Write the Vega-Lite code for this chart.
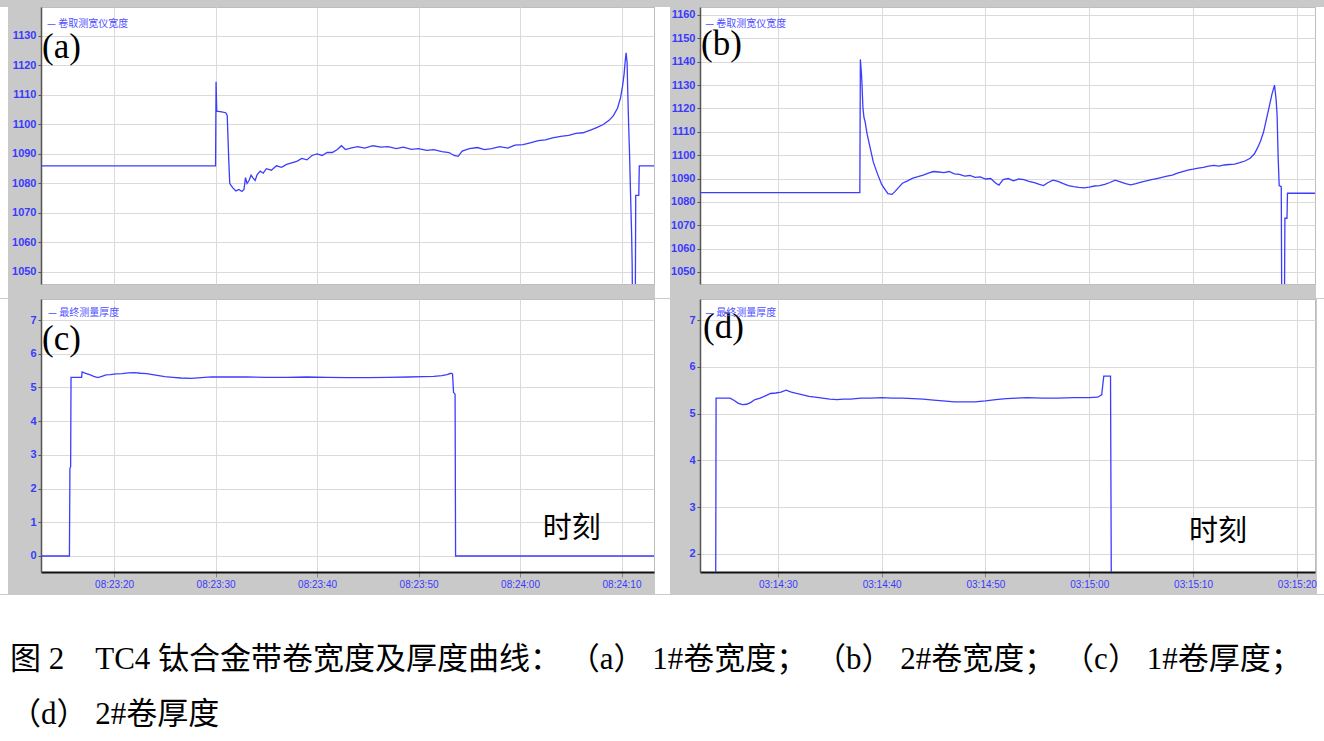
{
  "$schema": "https://vega.github.io/schema/vega-lite/v6.json",
  "background": "#c9c9c9",
  "padding": {"top": 6, "left": 0, "right": 0, "bottom": 0},
  "config": {
    "axis": {"labelColor": "#3a3aff", "labelFont": "Liberation Sans", "gridColor": "#dadada", "gridWidth": 1, "tickColor": "#555555", "domainColor": "#555555", "labelOverlap": false, "tickCount": 20},
    "axisY": {"labelFontSize": 11, "labelFontWeight": "bold", "tickSize": 3, "labelPadding": 2, "domainWidth": 1.5},
    "axisX": {"labelFontSize": 10, "tickSize": 5, "labelPadding": 2, "domainColor": "#111111", "domainWidth": 2, "tickColor": "#888888"}
  },
  "spacing": 0,
  "vconcat": [
    {
      "spacing": 0,
      "hconcat": [
        {"width": 8, "height": 291, "view": {"fill": "white", "stroke": null}, "data": {"values": [{}]}, "mark": {"type": "text"}, "encoding": {"text": {"value": ""}}},
        {
          "width": 613, "height": 277,
          "view": {"fill": "white", "stroke": "#bdbdbd"},
          "data": {"values": [
            {"t": "08:23:12.800", "v": 1086}, {"t": "08:23:30.000", "v": 1086}, {"t": "08:23:30.050", "v": 1114.5}, {"t": "08:23:30.120", "v": 1104.5},
            {"t": "08:23:30.600", "v": 1104.3}, {"t": "08:23:31.000", "v": 1104}, {"t": "08:23:31.150", "v": 1103}, {"t": "08:23:31.300", "v": 1088},
            {"t": "08:23:31.400", "v": 1080}, {"t": "08:23:31.700", "v": 1078.5}, {"t": "08:23:32.000", "v": 1077.5}, {"t": "08:23:32.300", "v": 1078},
            {"t": "08:23:32.600", "v": 1077.3}, {"t": "08:23:32.800", "v": 1078}, {"t": "08:23:32.950", "v": 1082}, {"t": "08:23:33.100", "v": 1080},
            {"t": "08:23:33.300", "v": 1081}, {"t": "08:23:33.500", "v": 1082.8}, {"t": "08:23:33.700", "v": 1081.8}, {"t": "08:23:33.900", "v": 1081},
            {"t": "08:23:34.100", "v": 1083}, {"t": "08:23:34.400", "v": 1084.2}, {"t": "08:23:34.700", "v": 1083.5}, {"t": "08:23:35.000", "v": 1085},
            {"t": "08:23:35.500", "v": 1084.5}, {"t": "08:23:36.000", "v": 1086}, {"t": "08:23:36.500", "v": 1085.5}, {"t": "08:23:37.000", "v": 1086.5},
            {"t": "08:23:37.500", "v": 1087}, {"t": "08:23:38.000", "v": 1087.5}, {"t": "08:23:38.500", "v": 1088.5}, {"t": "08:23:39.000", "v": 1088},
            {"t": "08:23:39.500", "v": 1089.5}, {"t": "08:23:40.000", "v": 1090}, {"t": "08:23:40.500", "v": 1089.5}, {"t": "08:23:41.000", "v": 1090.5},
            {"t": "08:23:41.500", "v": 1090.5}, {"t": "08:23:42.000", "v": 1091.5}, {"t": "08:23:42.400", "v": 1092.8}, {"t": "08:23:42.800", "v": 1091.5},
            {"t": "08:23:43.300", "v": 1092}, {"t": "08:23:44.000", "v": 1092.5}, {"t": "08:23:44.700", "v": 1092}, {"t": "08:23:45.500", "v": 1092.8},
            {"t": "08:23:46.300", "v": 1092.3}, {"t": "08:23:47.000", "v": 1092.5}, {"t": "08:23:47.800", "v": 1091.8}, {"t": "08:23:48.500", "v": 1092.3},
            {"t": "08:23:49.300", "v": 1091.6}, {"t": "08:23:50.000", "v": 1091.8}, {"t": "08:23:50.800", "v": 1091.2}, {"t": "08:23:51.500", "v": 1091.5},
            {"t": "08:23:52.300", "v": 1090.8}, {"t": "08:23:53.000", "v": 1090.5}, {"t": "08:23:53.500", "v": 1089.5}, {"t": "08:23:53.900", "v": 1089.2},
            {"t": "08:23:54.300", "v": 1091}, {"t": "08:23:55.000", "v": 1091.8}, {"t": "08:23:55.800", "v": 1092.2}, {"t": "08:23:56.500", "v": 1091.5},
            {"t": "08:23:57.200", "v": 1091.8}, {"t": "08:23:58.000", "v": 1092.5}, {"t": "08:23:58.800", "v": 1092}, {"t": "08:23:59.500", "v": 1093},
            {"t": "08:24:00.300", "v": 1093.2}, {"t": "08:24:01.000", "v": 1093.8}, {"t": "08:24:01.800", "v": 1094.5}, {"t": "08:24:02.500", "v": 1094.8},
            {"t": "08:24:03.200", "v": 1095.5}, {"t": "08:24:04.000", "v": 1096}, {"t": "08:24:04.800", "v": 1096.3}, {"t": "08:24:05.500", "v": 1097},
            {"t": "08:24:06.200", "v": 1097.2}, {"t": "08:24:07.000", "v": 1098.2}, {"t": "08:24:07.600", "v": 1099}, {"t": "08:24:08.200", "v": 1100},
            {"t": "08:24:08.800", "v": 1101.5}, {"t": "08:24:09.200", "v": 1103}, {"t": "08:24:09.600", "v": 1105.5}, {"t": "08:24:09.900", "v": 1109},
            {"t": "08:24:10.100", "v": 1113}, {"t": "08:24:10.250", "v": 1117}, {"t": "08:24:10.350", "v": 1121}, {"t": "08:24:10.450", "v": 1124.3},
            {"t": "08:24:10.550", "v": 1121}, {"t": "08:24:10.600", "v": 1113}, {"t": "08:24:10.700", "v": 1100}, {"t": "08:24:10.800", "v": 1089},
            {"t": "08:24:10.900", "v": 1075}, {"t": "08:24:11.000", "v": 1062}, {"t": "08:24:11.050", "v": 1052}, {"t": "08:24:11.100", "v": 1030},
            {"t": "08:24:11.350", "v": 1030}, {"t": "08:24:11.400", "v": 1076}, {"t": "08:24:11.700", "v": 1076}, {"t": "08:24:11.750", "v": 1086},
            {"t": "08:24:13.200", "v": 1086}
          ], "format": {"parse": {"t": "date:'%H:%M:%S.%L'"}}},
          "layer": [
            {
              "mark": {"type": "line", "color": "#3c3cff", "strokeWidth": 1.3, "clip": true},
              "encoding": {
                "x": {"field": "t", "type": "temporal",
                  "scale": {"domain": [{"year": 1900, "month": 1, "date": 1, "hours": 8, "minutes": 23, "seconds": 12, "milliseconds": 800}, {"year": 1900, "month": 1, "date": 1, "hours": 8, "minutes": 24, "seconds": 13, "milliseconds": 200}]},
                  "axis": {"title": null, "labels": false, "ticks": false, "domain": false, "grid": true,
                    "values": [{"year": 1900, "month": 1, "date": 1, "hours": 8, "minutes": 23, "seconds": 20}, {"year": 1900, "month": 1, "date": 1, "hours": 8, "minutes": 23, "seconds": 30}, {"year": 1900, "month": 1, "date": 1, "hours": 8, "minutes": 23, "seconds": 40}, {"year": 1900, "month": 1, "date": 1, "hours": 8, "minutes": 23, "seconds": 50}, {"year": 1900, "month": 1, "date": 1, "hours": 8, "minutes": 24, "seconds": 0}, {"year": 1900, "month": 1, "date": 1, "hours": 8, "minutes": 24, "seconds": 10}]}},
                "y": {"field": "v", "type": "quantitative",
                  "scale": {"domain": [1045.93, 1139.83], "nice": false, "zero": false},
                  "axis": {"title": null, "format": "d", "values": [1050, 1060, 1070, 1080, 1090, 1100, 1110, 1120, 1130], "minExtent": 32, "maxExtent": 32, "grid": true}}
              }
            },
            {
              "data": {"values": [{}]},
              "mark": {"type": "text", "font": "Liberation Serif", "fontSize": 35, "align": "left", "baseline": "middle", "color": "black"},
              "encoding": {
                "x": {"datum": {"year": 1900, "month": 1, "date": 1, "hours": 8, "minutes": 23, "seconds": 12, "milliseconds": 900}, "type": "temporal"},
                "y": {"datum": 1126.2, "type": "quantitative"},
                "text": {"value": "(a)"}
              }
            },
            {
              "data": {"values": [{}]},
              "mark": {"type": "text", "font": "Noto Sans CJK SC", "fontSize": 10, "align": "left", "baseline": "middle", "color": "#5050ff"},
              "encoding": {
                "x": {"datum": {"year": 1900, "month": 1, "date": 1, "hours": 8, "minutes": 23, "seconds": 13, "milliseconds": 400}, "type": "temporal"},
                "y": {"datum": 1134, "type": "quantitative"},
                "text": {"value": "— 卷取测宽仪宽度"}
              }
            }
          ]
        },
        {"width": 15, "height": 291, "view": {"fill": "white", "stroke": null}, "data": {"values": [{}]}, "mark": {"type": "text"}, "encoding": {"text": {"value": ""}}},
        {
          "width": 615, "height": 277,
          "view": {"fill": "white", "stroke": "#bdbdbd"},
          "data": {"values": [
            {"t": "03:14:22.500", "v": 1084}, {"t": "03:14:37.900", "v": 1084}, {"t": "03:14:37.950", "v": 1141}, {"t": "03:14:38.050", "v": 1135},
            {"t": "03:14:38.100", "v": 1131}, {"t": "03:14:38.200", "v": 1120}, {"t": "03:14:38.300", "v": 1116}, {"t": "03:14:38.400", "v": 1114.5},
            {"t": "03:14:38.600", "v": 1109}, {"t": "03:14:38.900", "v": 1103}, {"t": "03:14:39.200", "v": 1097}, {"t": "03:14:39.600", "v": 1092},
            {"t": "03:14:40.000", "v": 1087.5}, {"t": "03:14:40.300", "v": 1085.5}, {"t": "03:14:40.600", "v": 1083.5}, {"t": "03:14:41.000", "v": 1083.2},
            {"t": "03:14:41.300", "v": 1084.5}, {"t": "03:14:41.600", "v": 1086}, {"t": "03:14:42.000", "v": 1088}, {"t": "03:14:42.500", "v": 1089},
            {"t": "03:14:43.000", "v": 1090.2}, {"t": "03:14:43.500", "v": 1090.8}, {"t": "03:14:44.000", "v": 1091.5}, {"t": "03:14:44.500", "v": 1092.3},
            {"t": "03:14:45.000", "v": 1093}, {"t": "03:14:45.500", "v": 1092.8}, {"t": "03:14:46.000", "v": 1092.5}, {"t": "03:14:46.500", "v": 1093},
            {"t": "03:14:47.000", "v": 1092}, {"t": "03:14:47.500", "v": 1091.8}, {"t": "03:14:48.000", "v": 1091}, {"t": "03:14:48.500", "v": 1091.3},
            {"t": "03:14:49.000", "v": 1090.5}, {"t": "03:14:49.500", "v": 1090.7}, {"t": "03:14:50.000", "v": 1089.8}, {"t": "03:14:50.500", "v": 1090},
            {"t": "03:14:51.000", "v": 1088}, {"t": "03:14:51.300", "v": 1087.2}, {"t": "03:14:51.700", "v": 1089.5}, {"t": "03:14:52.200", "v": 1090},
            {"t": "03:14:52.700", "v": 1089}, {"t": "03:14:53.200", "v": 1089.8}, {"t": "03:14:53.700", "v": 1089.5}, {"t": "03:14:54.200", "v": 1088.8},
            {"t": "03:14:54.700", "v": 1088.2}, {"t": "03:14:55.200", "v": 1087.5}, {"t": "03:14:55.600", "v": 1087}, {"t": "03:14:56.000", "v": 1088.2},
            {"t": "03:14:56.500", "v": 1089.3}, {"t": "03:14:57.000", "v": 1088.8}, {"t": "03:14:57.500", "v": 1087.8}, {"t": "03:14:58.000", "v": 1087},
            {"t": "03:14:58.500", "v": 1086.5}, {"t": "03:14:59.000", "v": 1086.2}, {"t": "03:14:59.500", "v": 1086}, {"t": "03:15:00.000", "v": 1086.3},
            {"t": "03:15:00.500", "v": 1086.8}, {"t": "03:15:01.000", "v": 1087}, {"t": "03:15:01.500", "v": 1087.5}, {"t": "03:15:02.000", "v": 1088.3},
            {"t": "03:15:02.500", "v": 1089.3}, {"t": "03:15:03.000", "v": 1088.6}, {"t": "03:15:03.500", "v": 1087.8}, {"t": "03:15:04.000", "v": 1087.3},
            {"t": "03:15:04.500", "v": 1087.8}, {"t": "03:15:05.000", "v": 1088.5}, {"t": "03:15:05.500", "v": 1089}, {"t": "03:15:06.000", "v": 1089.5},
            {"t": "03:15:06.500", "v": 1090}, {"t": "03:15:07.000", "v": 1090.5}, {"t": "03:15:07.500", "v": 1091}, {"t": "03:15:08.000", "v": 1091.5},
            {"t": "03:15:08.500", "v": 1092.3}, {"t": "03:15:09.000", "v": 1093}, {"t": "03:15:09.500", "v": 1093.6}, {"t": "03:15:10.000", "v": 1094},
            {"t": "03:15:10.500", "v": 1094.5}, {"t": "03:15:11.000", "v": 1094.8}, {"t": "03:15:11.500", "v": 1095.3}, {"t": "03:15:12.000", "v": 1095.6},
            {"t": "03:15:12.500", "v": 1095.3}, {"t": "03:15:13.000", "v": 1095.8}, {"t": "03:15:13.500", "v": 1096}, {"t": "03:15:14.000", "v": 1096.2},
            {"t": "03:15:14.500", "v": 1096.8}, {"t": "03:15:15.000", "v": 1097.5}, {"t": "03:15:15.500", "v": 1098.7}, {"t": "03:15:15.900", "v": 1100.5},
            {"t": "03:15:16.200", "v": 1103}, {"t": "03:15:16.500", "v": 1106}, {"t": "03:15:16.800", "v": 1110}, {"t": "03:15:17.000", "v": 1114},
            {"t": "03:15:17.200", "v": 1118}, {"t": "03:15:17.400", "v": 1122}, {"t": "03:15:17.600", "v": 1126}, {"t": "03:15:17.850", "v": 1130},
            {"t": "03:15:18.000", "v": 1124}, {"t": "03:15:18.100", "v": 1117}, {"t": "03:15:18.200", "v": 1099}, {"t": "03:15:18.300", "v": 1087},
            {"t": "03:15:18.500", "v": 1086.5}, {"t": "03:15:18.550", "v": 1030}, {"t": "03:15:18.800", "v": 1030}, {"t": "03:15:18.850", "v": 1073},
            {"t": "03:15:19.050", "v": 1073}, {"t": "03:15:19.100", "v": 1083.7}, {"t": "03:15:21.750", "v": 1083.7}
          ], "format": {"parse": {"t": "date:'%H:%M:%S.%L'"}}},
          "layer": [
            {
              "mark": {"type": "line", "color": "#3c3cff", "strokeWidth": 1.3, "clip": true},
              "encoding": {
                "x": {"field": "t", "type": "temporal",
                  "scale": {"domain": [{"year": 1900, "month": 1, "date": 1, "hours": 3, "minutes": 14, "seconds": 22, "milliseconds": 500}, {"year": 1900, "month": 1, "date": 1, "hours": 3, "minutes": 15, "seconds": 21, "milliseconds": 750}]},
                  "axis": {"title": null, "labels": false, "ticks": false, "domain": false, "grid": true,
                    "values": [{"year": 1900, "month": 1, "date": 1, "hours": 3, "minutes": 14, "seconds": 30}, {"year": 1900, "month": 1, "date": 1, "hours": 3, "minutes": 14, "seconds": 40}, {"year": 1900, "month": 1, "date": 1, "hours": 3, "minutes": 14, "seconds": 50}, {"year": 1900, "month": 1, "date": 1, "hours": 3, "minutes": 15, "seconds": 0}, {"year": 1900, "month": 1, "date": 1, "hours": 3, "minutes": 15, "seconds": 10}, {"year": 1900, "month": 1, "date": 1, "hours": 3, "minutes": 15, "seconds": 20}]}},
                "y": {"field": "v", "type": "quantitative",
                  "scale": {"domain": [1044.86, 1163.42], "nice": false, "zero": false},
                  "axis": {"title": null, "format": "d", "values": [1050, 1060, 1070, 1080, 1090, 1100, 1110, 1120, 1130, 1140, 1150, 1160], "minExtent": 29, "maxExtent": 29, "grid": true}}
              }
            },
            {
              "data": {"values": [{}]},
              "mark": {"type": "text", "font": "Liberation Serif", "fontSize": 35, "align": "left", "baseline": "middle", "color": "black"},
              "encoding": {
                "x": {"datum": {"year": 1900, "month": 1, "date": 1, "hours": 3, "minutes": 14, "seconds": 22, "milliseconds": 600}, "type": "temporal"},
                "y": {"datum": 1147.5, "type": "quantitative"},
                "text": {"value": "(b)"}
              }
            },
            {
              "data": {"values": [{}]},
              "mark": {"type": "text", "font": "Noto Sans CJK SC", "fontSize": 10, "align": "left", "baseline": "middle", "color": "#5050ff"},
              "encoding": {
                "x": {"datum": {"year": 1900, "month": 1, "date": 1, "hours": 3, "minutes": 14, "seconds": 23, "milliseconds": 0}, "type": "temporal"},
                "y": {"datum": 1156.1, "type": "quantitative"},
                "text": {"value": "— 卷取测宽仪宽度"}
              }
            }
          ]
        },
        {"width": 12, "height": 291, "view": {"fill": "white", "stroke": null}, "data": {"values": [{}]}, "mark": {"type": "text"}, "encoding": {"text": {"value": ""}}}
      ]
    },
    {
      "spacing": 0,
      "hconcat": [
        {"width": 8, "height": 295, "view": {"fill": "white", "stroke": null}, "data": {"values": [{}]}, "mark": {"type": "text"}, "encoding": {"text": {"value": ""}}},
        {
          "width": 613, "height": 273,
          "view": {"fill": "white", "stroke": "#bdbdbd"},
          "data": {"values": [
            {"t": "08:23:12.800", "v": 0}, {"t": "08:23:15.600", "v": 0}, {"t": "08:23:15.650", "v": 2.6}, {"t": "08:23:15.720", "v": 2.65},
            {"t": "08:23:15.760", "v": 5.3}, {"t": "08:23:16.800", "v": 5.3}, {"t": "08:23:16.850", "v": 5.46}, {"t": "08:23:17.200", "v": 5.42},
            {"t": "08:23:17.600", "v": 5.38}, {"t": "08:23:18.000", "v": 5.33}, {"t": "08:23:18.400", "v": 5.29}, {"t": "08:23:18.800", "v": 5.33},
            {"t": "08:23:19.200", "v": 5.37}, {"t": "08:23:19.600", "v": 5.38}, {"t": "08:23:20.200", "v": 5.4}, {"t": "08:23:20.800", "v": 5.41},
            {"t": "08:23:21.400", "v": 5.43}, {"t": "08:23:22.000", "v": 5.44}, {"t": "08:23:22.600", "v": 5.42}, {"t": "08:23:23.200", "v": 5.41},
            {"t": "08:23:23.800", "v": 5.38}, {"t": "08:23:24.400", "v": 5.35}, {"t": "08:23:25.000", "v": 5.32}, {"t": "08:23:25.800", "v": 5.3},
            {"t": "08:23:26.600", "v": 5.28}, {"t": "08:23:27.600", "v": 5.27}, {"t": "08:23:28.600", "v": 5.29}, {"t": "08:23:29.600", "v": 5.31},
            {"t": "08:23:31.000", "v": 5.31}, {"t": "08:23:33.000", "v": 5.31}, {"t": "08:23:35.000", "v": 5.3}, {"t": "08:23:37.000", "v": 5.3},
            {"t": "08:23:39.000", "v": 5.31}, {"t": "08:23:41.000", "v": 5.3}, {"t": "08:23:43.000", "v": 5.29}, {"t": "08:23:45.000", "v": 5.29},
            {"t": "08:23:47.000", "v": 5.3}, {"t": "08:23:49.000", "v": 5.31}, {"t": "08:23:50.500", "v": 5.32}, {"t": "08:23:51.500", "v": 5.33},
            {"t": "08:23:52.300", "v": 5.35}, {"t": "08:23:52.800", "v": 5.38}, {"t": "08:23:53.200", "v": 5.42}, {"t": "08:23:53.350", "v": 5.4},
            {"t": "08:23:53.450", "v": 4.85}, {"t": "08:23:53.600", "v": 4.8}, {"t": "08:23:53.650", "v": 0}, {"t": "08:24:13.200", "v": 0}
          ], "format": {"parse": {"t": "date:'%H:%M:%S.%L'"}}},
          "layer": [
            {
              "mark": {"type": "line", "color": "#3c3cff", "strokeWidth": 1.3, "clip": true},
              "encoding": {
                "x": {"field": "t", "type": "temporal",
                  "scale": {"domain": [{"year": 1900, "month": 1, "date": 1, "hours": 8, "minutes": 23, "seconds": 12, "milliseconds": 800}, {"year": 1900, "month": 1, "date": 1, "hours": 8, "minutes": 24, "seconds": 13, "milliseconds": 200}]},
                  "axis": {"title": null, "format": "%H:%M:%S", "grid": true, "minExtent": 22, "maxExtent": 22,
                    "values": [{"year": 1900, "month": 1, "date": 1, "hours": 8, "minutes": 23, "seconds": 20}, {"year": 1900, "month": 1, "date": 1, "hours": 8, "minutes": 23, "seconds": 30}, {"year": 1900, "month": 1, "date": 1, "hours": 8, "minutes": 23, "seconds": 40}, {"year": 1900, "month": 1, "date": 1, "hours": 8, "minutes": 23, "seconds": 50}, {"year": 1900, "month": 1, "date": 1, "hours": 8, "minutes": 24, "seconds": 0}, {"year": 1900, "month": 1, "date": 1, "hours": 8, "minutes": 24, "seconds": 10}]}},
                "y": {"field": "v", "type": "quantitative",
                  "scale": {"domain": [-0.475, 7.623], "nice": false, "zero": false},
                  "axis": {"title": null, "format": "d", "values": [0, 1, 2, 3, 4, 5, 6, 7], "minExtent": 32, "maxExtent": 32, "grid": true}}
              }
            },
            {
              "data": {"values": [{}]},
              "mark": {"type": "text", "font": "Liberation Serif", "fontSize": 35, "align": "left", "baseline": "middle", "color": "black"},
              "encoding": {
                "x": {"datum": {"year": 1900, "month": 1, "date": 1, "hours": 8, "minutes": 23, "seconds": 12, "milliseconds": 900}, "type": "temporal"},
                "y": {"datum": 6.45, "type": "quantitative"},
                "text": {"value": "(c)"}
              }
            },
            {
              "data": {"values": [{}]},
              "mark": {"type": "text", "font": "Noto Sans CJK SC", "fontSize": 10, "align": "left", "baseline": "middle", "color": "#5050ff"},
              "encoding": {
                "x": {"datum": {"year": 1900, "month": 1, "date": 1, "hours": 8, "minutes": 23, "seconds": 13, "milliseconds": 500}, "type": "temporal"},
                "y": {"datum": 7.2, "type": "quantitative"},
                "text": {"value": "— 最终测量厚度"}
              }
            },
            {
              "data": {"values": [{}]},
              "mark": {"type": "text", "font": "Noto Sans CJK SC", "fontSize": 29, "align": "center", "baseline": "middle", "color": "black"},
              "encoding": {
                "x": {"datum": {"year": 1900, "month": 1, "date": 1, "hours": 8, "minutes": 24, "seconds": 5, "milliseconds": 100}, "type": "temporal"},
                "y": {"datum": 0.8, "type": "quantitative"},
                "text": {"value": "时刻"}
              }
            }
          ]
        },
        {"width": 15, "height": 295, "view": {"fill": "white", "stroke": null}, "data": {"values": [{}]}, "mark": {"type": "text"}, "encoding": {"text": {"value": ""}}},
        {
          "width": 615, "height": 273,
          "view": {"fill": "white", "stroke": "#bdbdbd"},
          "data": {"values": [
            {"t": "03:14:22.500", "v": 0}, {"t": "03:14:24.000", "v": 0}, {"t": "03:14:24.050", "v": 5.33}, {"t": "03:14:25.400", "v": 5.33},
            {"t": "03:14:25.800", "v": 5.28}, {"t": "03:14:26.200", "v": 5.22}, {"t": "03:14:26.600", "v": 5.19}, {"t": "03:14:27.000", "v": 5.2},
            {"t": "03:14:27.400", "v": 5.24}, {"t": "03:14:27.800", "v": 5.3}, {"t": "03:14:28.300", "v": 5.33}, {"t": "03:14:28.800", "v": 5.38},
            {"t": "03:14:29.300", "v": 5.43}, {"t": "03:14:29.800", "v": 5.44}, {"t": "03:14:30.300", "v": 5.46}, {"t": "03:14:30.800", "v": 5.5},
            {"t": "03:14:31.300", "v": 5.46}, {"t": "03:14:31.800", "v": 5.43}, {"t": "03:14:32.400", "v": 5.4}, {"t": "03:14:33.000", "v": 5.37},
            {"t": "03:14:33.600", "v": 5.35}, {"t": "03:14:34.300", "v": 5.33}, {"t": "03:14:35.000", "v": 5.31}, {"t": "03:14:35.700", "v": 5.3},
            {"t": "03:14:36.300", "v": 5.31}, {"t": "03:14:37.000", "v": 5.31}, {"t": "03:14:38.000", "v": 5.33}, {"t": "03:14:39.000", "v": 5.33},
            {"t": "03:14:40.000", "v": 5.34}, {"t": "03:14:41.000", "v": 5.33}, {"t": "03:14:42.000", "v": 5.33}, {"t": "03:14:43.000", "v": 5.32},
            {"t": "03:14:44.000", "v": 5.31}, {"t": "03:14:45.000", "v": 5.29}, {"t": "03:14:45.900", "v": 5.27}, {"t": "03:14:47.000", "v": 5.25},
            {"t": "03:14:48.000", "v": 5.25}, {"t": "03:14:49.000", "v": 5.25}, {"t": "03:14:50.000", "v": 5.27}, {"t": "03:14:51.000", "v": 5.3},
            {"t": "03:14:52.000", "v": 5.32}, {"t": "03:14:53.000", "v": 5.33}, {"t": "03:14:54.000", "v": 5.34}, {"t": "03:14:55.500", "v": 5.33},
            {"t": "03:14:57.000", "v": 5.33}, {"t": "03:14:58.500", "v": 5.34}, {"t": "03:15:00.000", "v": 5.34}, {"t": "03:15:00.800", "v": 5.35},
            {"t": "03:15:01.200", "v": 5.4}, {"t": "03:15:01.400", "v": 5.8}, {"t": "03:15:02.050", "v": 5.8}, {"t": "03:15:02.150", "v": 0},
            {"t": "03:15:21.750", "v": 0}
          ], "format": {"parse": {"t": "date:'%H:%M:%S.%L'"}}},
          "layer": [
            {
              "mark": {"type": "line", "color": "#3c3cff", "strokeWidth": 1.3, "clip": true},
              "encoding": {
                "x": {"field": "t", "type": "temporal",
                  "scale": {"domain": [{"year": 1900, "month": 1, "date": 1, "hours": 3, "minutes": 14, "seconds": 22, "milliseconds": 500}, {"year": 1900, "month": 1, "date": 1, "hours": 3, "minutes": 15, "seconds": 21, "milliseconds": 750}]},
                  "axis": {"title": null, "format": "%H:%M:%S", "grid": true, "minExtent": 22, "maxExtent": 22,
                    "values": [{"year": 1900, "month": 1, "date": 1, "hours": 3, "minutes": 14, "seconds": 30}, {"year": 1900, "month": 1, "date": 1, "hours": 3, "minutes": 14, "seconds": 40}, {"year": 1900, "month": 1, "date": 1, "hours": 3, "minutes": 14, "seconds": 50}, {"year": 1900, "month": 1, "date": 1, "hours": 3, "minutes": 15, "seconds": 0}, {"year": 1900, "month": 1, "date": 1, "hours": 3, "minutes": 15, "seconds": 10}, {"year": 1900, "month": 1, "date": 1, "hours": 3, "minutes": 15, "seconds": 20}]}},
                "y": {"field": "v", "type": "quantitative",
                  "scale": {"domain": [1.615, 7.449], "nice": false, "zero": false},
                  "axis": {"title": null, "format": "d", "values": [2, 3, 4, 5, 6, 7], "minExtent": 29, "maxExtent": 29, "grid": true}}
              }
            },
            {
              "data": {"values": [{}]},
              "mark": {"type": "text", "font": "Liberation Serif", "fontSize": 35, "align": "left", "baseline": "middle", "color": "black"},
              "encoding": {
                "x": {"datum": {"year": 1900, "month": 1, "date": 1, "hours": 3, "minutes": 14, "seconds": 22, "milliseconds": 800}, "type": "temporal"},
                "y": {"datum": 6.84, "type": "quantitative"},
                "text": {"value": "(d)"}
              }
            },
            {
              "data": {"values": [{}]},
              "mark": {"type": "text", "font": "Noto Sans CJK SC", "fontSize": 10, "align": "left", "baseline": "middle", "color": "#5050ff"},
              "encoding": {
                "x": {"datum": {"year": 1900, "month": 1, "date": 1, "hours": 3, "minutes": 14, "seconds": 23, "milliseconds": 0}, "type": "temporal"},
                "y": {"datum": 7.15, "type": "quantitative"},
                "text": {"value": "— 最终测量厚度"}
              }
            },
            {
              "data": {"values": [{}]},
              "mark": {"type": "text", "font": "Noto Sans CJK SC", "fontSize": 29, "align": "center", "baseline": "middle", "color": "black"},
              "encoding": {
                "x": {"datum": {"year": 1900, "month": 1, "date": 1, "hours": 3, "minutes": 15, "seconds": 12, "milliseconds": 400}, "type": "temporal"},
                "y": {"datum": 2.47, "type": "quantitative"},
                "text": {"value": "时刻"}
              }
            }
          ]
        },
        {"width": 12, "height": 295, "view": {"fill": "white", "stroke": null}, "data": {"values": [{}]}, "mark": {"type": "text"}, "encoding": {"text": {"value": ""}}}
      ]
    },
    {
      "width": 1324, "height": 149,
      "view": {"fill": "white", "stroke": null},
      "data": {"values": [{}]},
      "mark": {"type": "text"},
      "encoding": {"text": {"value": ""}},
      "title": {
        "text": ["图 2　TC4 钛合金带卷宽度及厚度曲线： （a） 1#卷宽度； （b） 2#卷宽度； （c） 1#卷厚度；", "（d） 2#卷厚度"],
        "orient": "bottom", "anchor": "start", "offset": -99, "dx": 10,
        "font": "Liberation Serif, Noto Sans CJK SC", "fontSize": 31, "fontWeight": "normal", "color": "black", "lineHeight": 55
      }
    }
  ]
}
